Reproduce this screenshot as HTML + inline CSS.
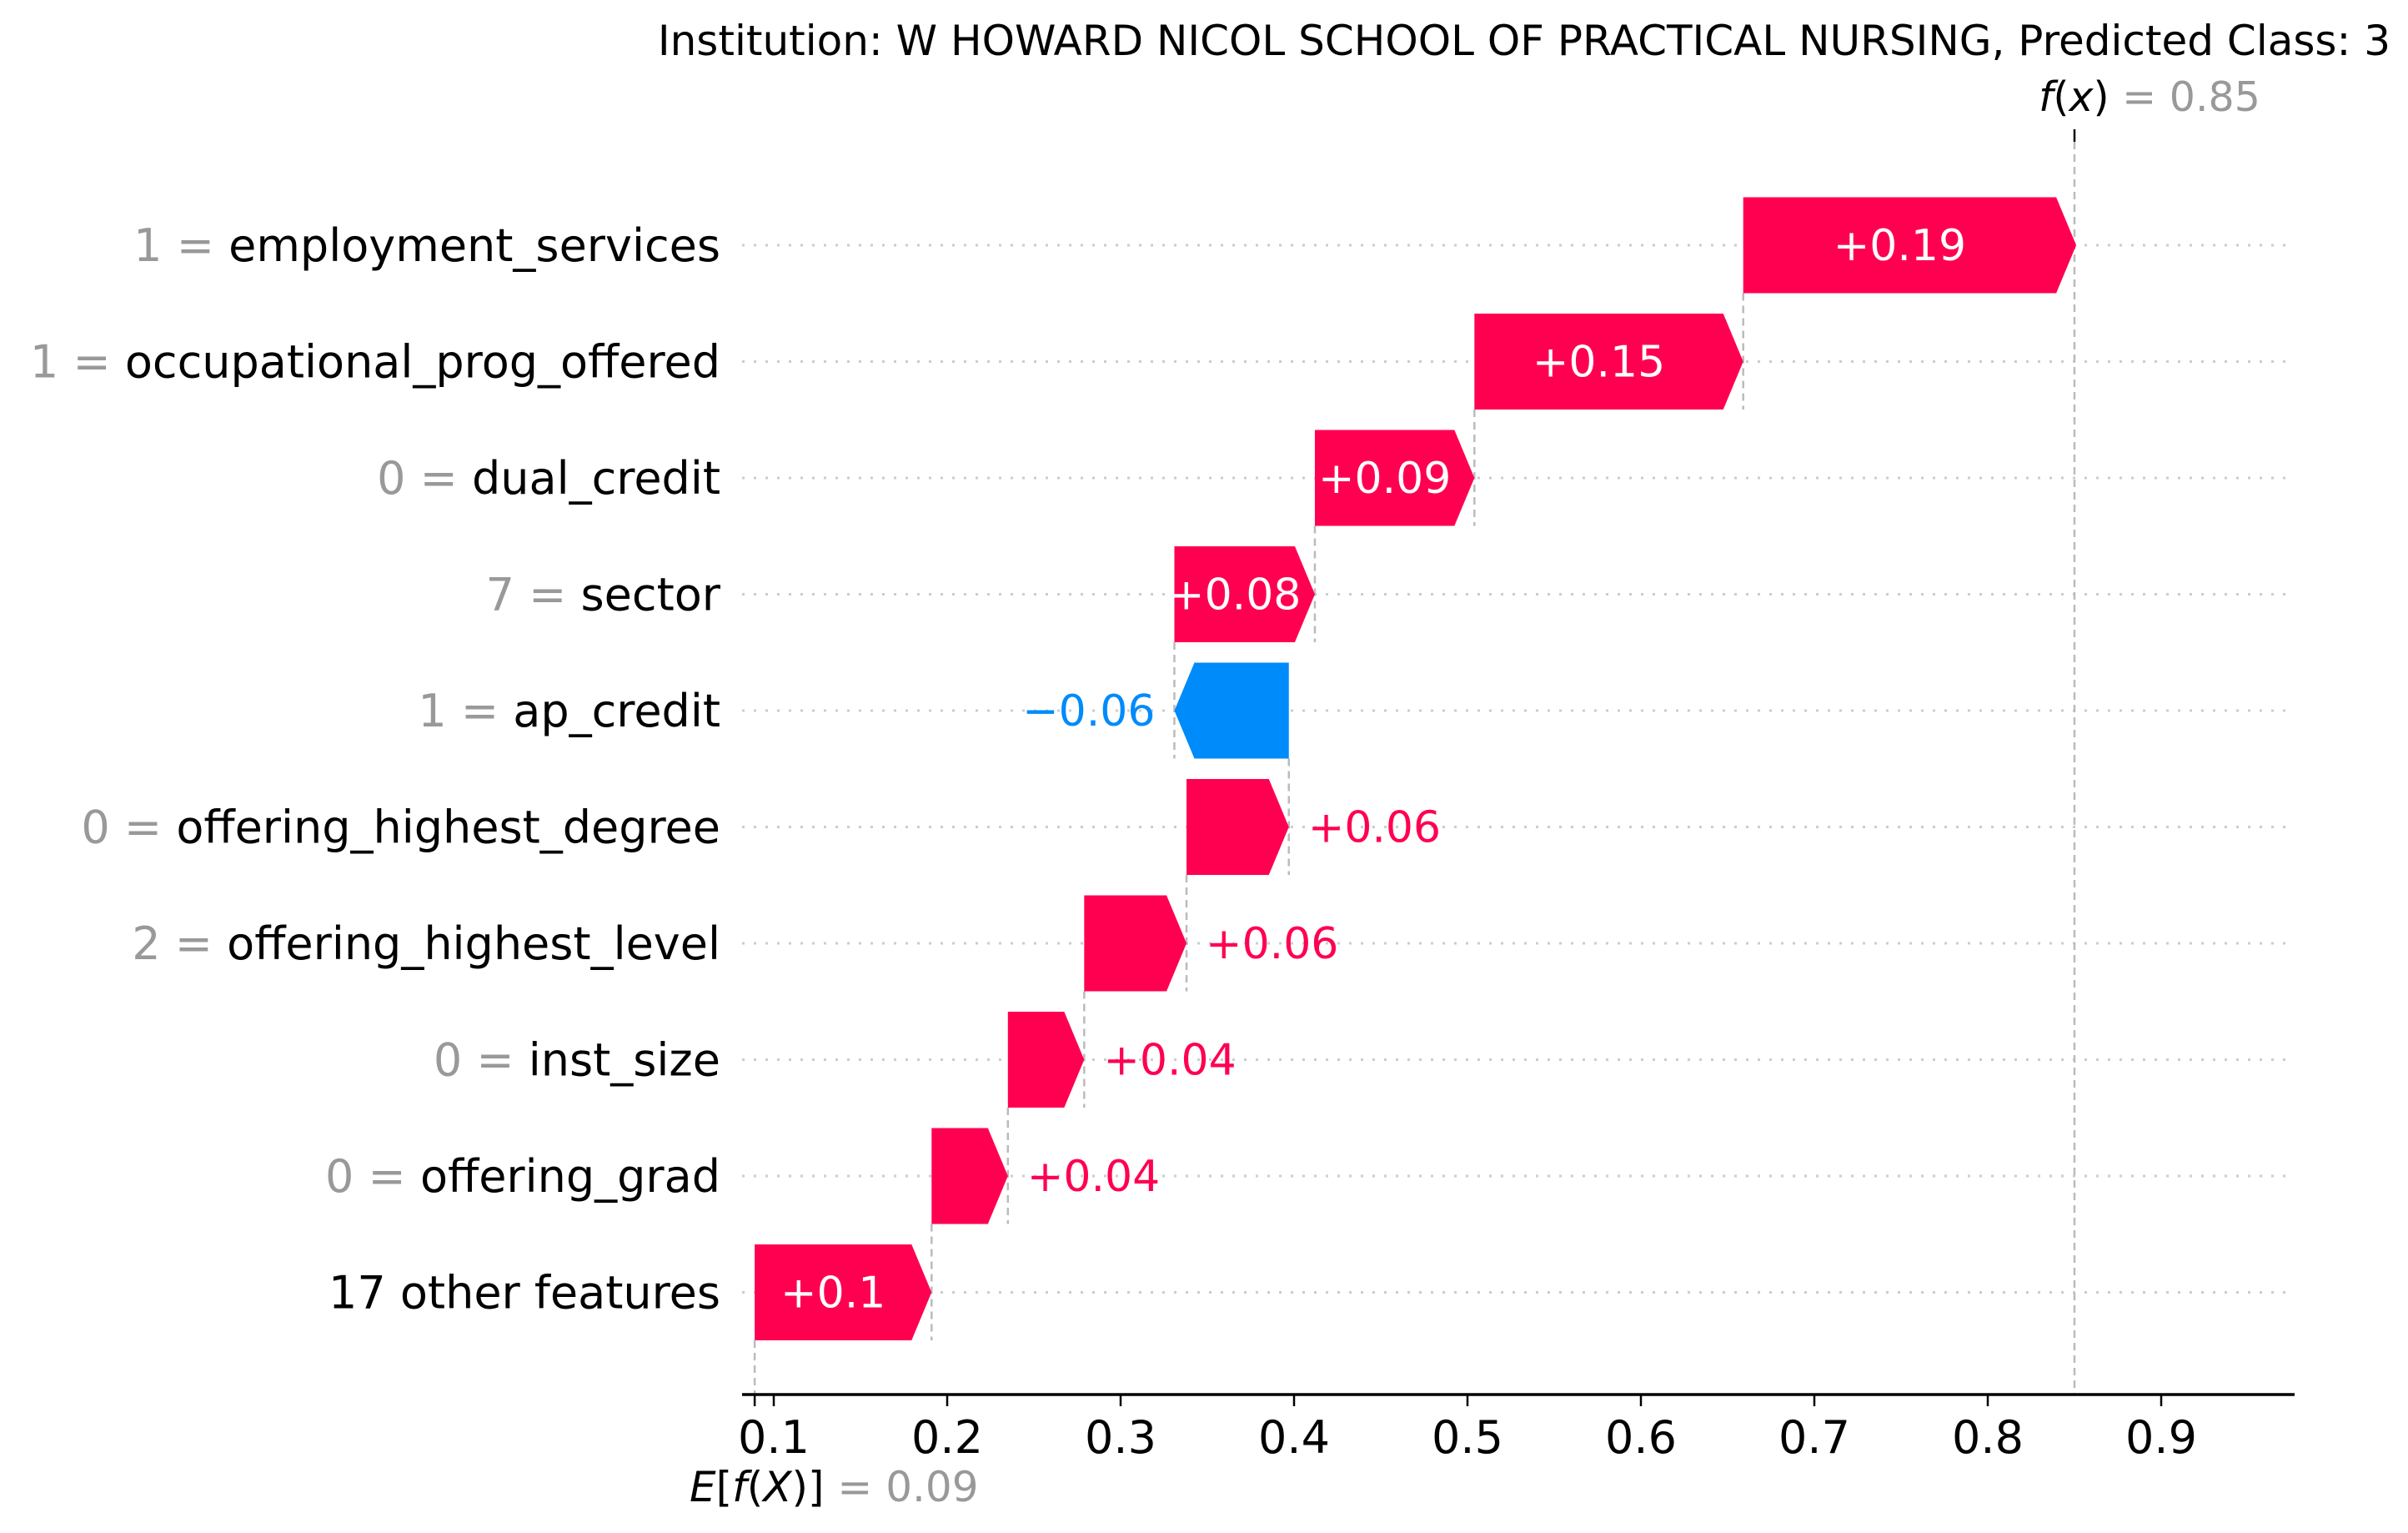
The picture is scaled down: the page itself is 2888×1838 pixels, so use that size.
<!DOCTYPE html>
<html><head><meta charset="utf-8">
<style>
html,body{margin:0;padding:0;background:#fff;}
svg{display:block;font-family:"DejaVu Sans","Liberation Sans",sans-serif;}
</style></head>
<body>
<svg id="chart" width="2888" height="1838" viewBox="0 0 2888 1838" xmlns="http://www.w3.org/2000/svg">
<text x="2867" y="66" text-anchor="end" font-size="50" fill="#000">Institution: W HOWARD NICOL SCHOOL OF PRACTICAL NURSING, Predicted Class: 3</text>
<g id="grid"></g><g id="conn"></g><g id="bars"></g><g id="labels"></g><g id="axis"></g>
</svg>
<script>
const featureValues = ["1","1","0","7","1","0","2","0","0",""];
const featureNames = ["employment_services","occupational_prog_offered","dual_credit","sector","ap_credit","offering_highest_degree","offering_highest_level","inst_size","offering_grad","17 other features"];
const shapValues = [0.192,0.155,0.092,0.081,-0.066,0.059,0.059,0.044,0.044,0.102];
const valueLabels = ["+0.19","+0.15","+0.09","+0.08","\u22120.06","+0.06","+0.06","+0.04","+0.04","+0.1"];
const baseValue = 0.089;
const fxValue = 0.85;
const baseLabel = "0.09";
const fxLabel = "0.85";
const tickValues = [0.1,0.2,0.3,0.4,0.5,0.6,0.7,0.8,0.9];

const NS="http://www.w3.org/2000/svg";
const X=v=>928+(v-0.1)*2080;
const Y=i=>294+i*139.5;
const BH=115, GAP=139.5-115, ARROW=24;
const PINK="#ff0051", BLUE="#008bfb";
function mk(tag,attrs,parent){const e=document.createElementNS(NS,tag);for(const k in attrs)e.setAttribute(k,attrs[k]);parent.appendChild(e);return e;}
const grid=document.getElementById('grid'),conn=document.getElementById('conn'),bars=document.getElementById('bars'),labels=document.getElementById('labels'),axis=document.getElementById('axis');

const n=shapValues.length;
const starts=new Array(n), ends=new Array(n);
let cur=baseValue;
for(let i=n-1;i>=0;i--){starts[i]=cur;cur+=shapValues[i];ends[i]=cur;}

for(let i=0;i<n;i++){
  const y=Y(i);
  const gl=mk('line',{x1:890,x2:2745,y1:y,y2:y,stroke:'#cccccc','stroke-width':3,'stroke-dasharray':'3 11'},grid);
  
  
  const t=mk('text',{x:864,y:y+19,'text-anchor':'end','font-size':54},labels);
  
  
  if(featureValues[i]!==""){
    const s1=mk('tspan',{fill:'#999999'},t);s1.textContent=featureValues[i]+" = ";
  }
  const s2=mk('tspan',{fill:'#000'},t);s2.textContent=featureNames[i];

  const v=shapValues[i], x0=X(starts[i]), x1=X(ends[i]);
  const top=y-BH/2, bot=y+BH/2;
  let pts;
  if(v>=0){const a=Math.min(ARROW,x1-x0);pts=[[x0,top],[x1-a,top],[x1,y],[x1-a,bot],[x0,bot]];}
  else{const a=Math.min(ARROW,x0-x1);pts=[[x0,top],[x1+a,top],[x1,y],[x1+a,bot],[x0,bot]];}
  const p=mk('polygon',{points:pts.map(q=>q.join(',')).join(' '),fill:v>=0?PINK:BLUE},bars);
  
  
  if(i>0){
    const c=mk('line',{x1:x1,x2:x1,y1:top-GAP,y2:bot,stroke:'#bbbbbb','stroke-width':2.5,'stroke-dasharray':'9 6'},conn);
    
    
  }
  const w=Math.abs(x1-x0);
  const vt=mk('text',{'font-size':52,y:y+18},labels);
  
  
  vt.textContent=valueLabels[i];
  if(w>160){vt.setAttribute('x',(x0+x1)/2-(v>=0?ARROW/2:-ARROW/2));vt.setAttribute('text-anchor','middle');vt.setAttribute('fill','#fff');}
  else if(v>=0){vt.setAttribute('x',x1+23);vt.setAttribute('fill',PINK);}
  else{vt.setAttribute('x',x1-23);vt.setAttribute('text-anchor','end');vt.setAttribute('fill',BLUE);}
}
const bl=mk('line',{x1:X(baseValue),x2:X(baseValue),y1:Y(n-1)+BH/2,y2:1671,stroke:'#bbbbbb','stroke-width':2.5,'stroke-dasharray':'9 6'},conn);


const fl=mk('line',{x1:X(fxValue),x2:X(fxValue),y1:170,y2:1671,stroke:'#bbbbbb','stroke-width':2.5,'stroke-dasharray':'9 6'},conn);


const ft=mk('line',{x1:X(fxValue),x2:X(fxValue),y1:155,y2:170,stroke:'#000','stroke-width':2.5},axis);



const ax=mk('line',{x1:890,x2:2752,y1:1672,y2:1672,stroke:'#000','stroke-width':3.5},axis);


const bt=mk('line',{x1:X(baseValue),x2:X(baseValue),y1:1672,y2:1686,stroke:'#000','stroke-width':2.5},axis);


tickValues.forEach(tv=>{
  const tk=mk('line',{x1:X(tv),x2:X(tv),y1:1672,y2:1686,stroke:'#000','stroke-width':2.5},axis);
  
  
  const tl=mk('text',{x:X(tv),y:1742,'text-anchor':'middle','font-size':54,fill:'#000'},axis);
  
  
  tl.textContent=tv.toFixed(1);
});
const el=mk('text',{x:827,y:1800,'text-anchor':'start','font-size':50},axis);


el.innerHTML='<tspan font-style="italic">E</tspan><tspan>[</tspan><tspan font-style="italic">f</tspan><tspan>(</tspan><tspan font-style="italic">X</tspan><tspan>)] </tspan><tspan fill="#999999">= '+baseLabel+'</tspan>';
const fxl=mk('text',{x:X(fxValue)+90,y:133,'text-anchor':'middle','font-size':49},axis);


fxl.innerHTML='<tspan font-style="italic">f</tspan><tspan>(</tspan><tspan font-style="italic">x</tspan><tspan>) </tspan><tspan fill="#999999">= '+fxLabel+'</tspan>';
</script>
</body></html>
